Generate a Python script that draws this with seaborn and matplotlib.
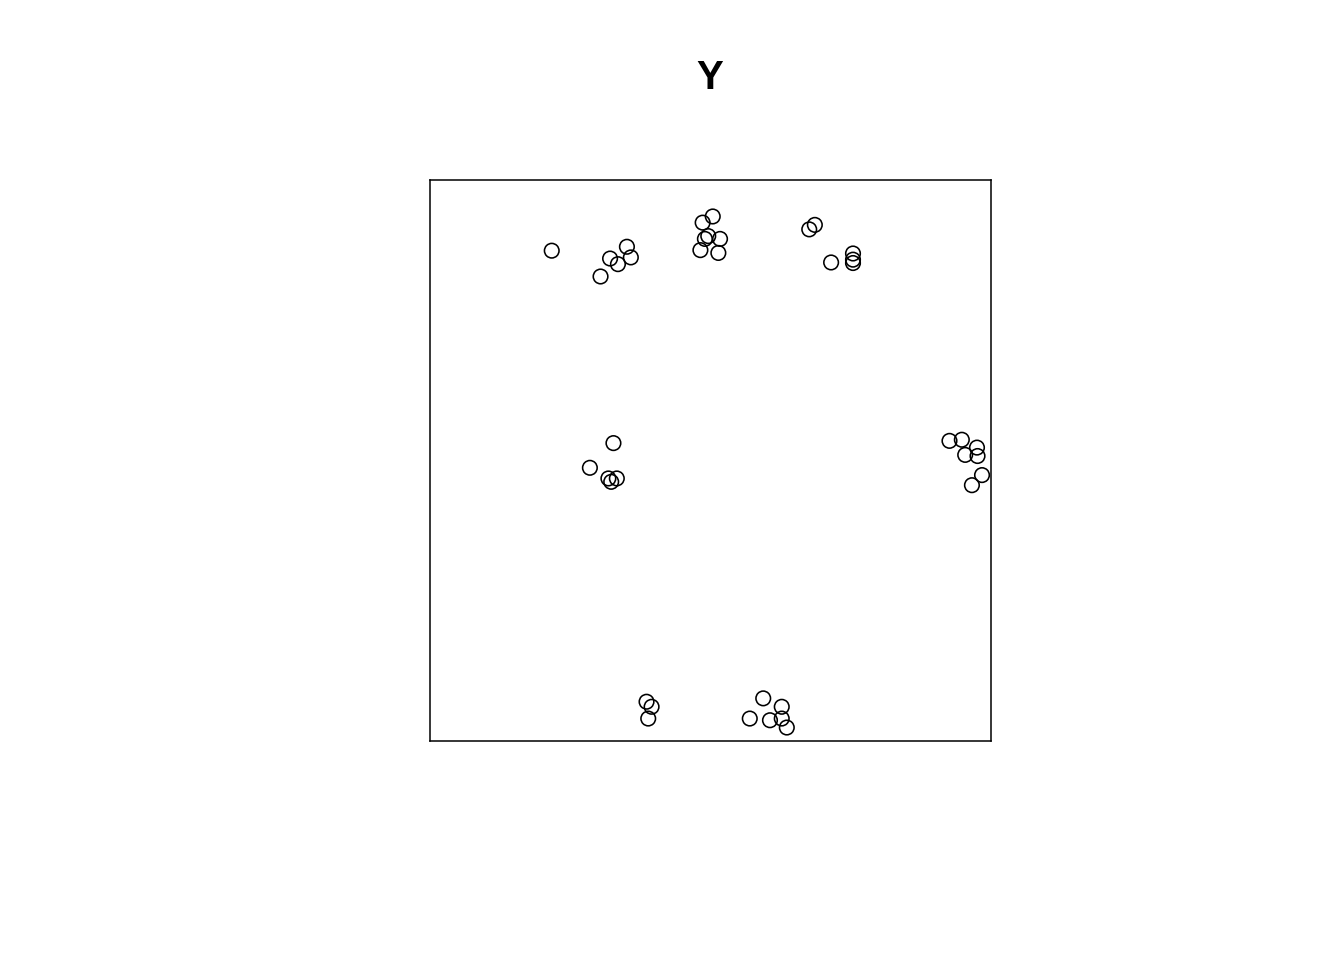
import matplotlib
matplotlib.use("Agg")
import matplotlib.pyplot as plt
import seaborn as sns
import pandas as pd

# point coordinates in the unit-square window
x_vals = [0.217, 0.351, 0.321, 0.358, 0.335, 0.304,
          0.504, 0.486, 0.496, 0.490, 0.517, 0.482, 0.514,
          0.686, 0.676, 0.715, 0.754, 0.754, 0.754,
          0.327, 0.285, 0.318, 0.333, 0.323,
          0.926, 0.948, 0.975, 0.954, 0.976, 0.984, 0.966,
          0.386, 0.395, 0.389, 0.594, 0.627, 0.570, 0.606, 0.627, 0.636]
y_vals = [0.874, 0.881, 0.860, 0.862, 0.850, 0.828,
          0.935, 0.924, 0.900, 0.895, 0.895, 0.875, 0.870,
          0.920, 0.912, 0.853, 0.869, 0.858, 0.852,
          0.531, 0.487, 0.468, 0.468, 0.462,
          0.535, 0.537, 0.523, 0.510, 0.508, 0.474, 0.456,
          0.070, 0.061, 0.040, 0.076, 0.061, 0.040, 0.037, 0.040, 0.024]
title_text = "Y"

df = pd.DataFrame({"x": x_vals, "y": y_vals})

sns.set_theme(style="white")
plt.rcParams['font.family'] = ['Liberation Sans', 'DejaVu Sans']

fig = plt.figure(figsize=(13.44, 9.6), dpi=100)
ax = fig.add_axes([430/1344, 1-741/960, 561/1344, 561/960])
sns.scatterplot(data=df, x="x", y="y", ax=ax, marker="o", s=110,
                facecolors="none", edgecolor="black", linewidth=1.15, legend=False)
ax.set_xlim(0, 1)
ax.set_ylim(0, 1)
ax.set_xticks([])
ax.set_yticks([])
ax.set_xlabel("")
ax.set_ylabel("")
for sp in ax.spines.values():
    sp.set_visible(True)
    sp.set_color("black")
    sp.set_linewidth(1.1)

fig.text(710/1344, 1-78/960, title_text, ha="center", va="center",
         fontsize=29, fontweight="bold", color="black")

fig.savefig("out.png", dpi=100, facecolor="white")
